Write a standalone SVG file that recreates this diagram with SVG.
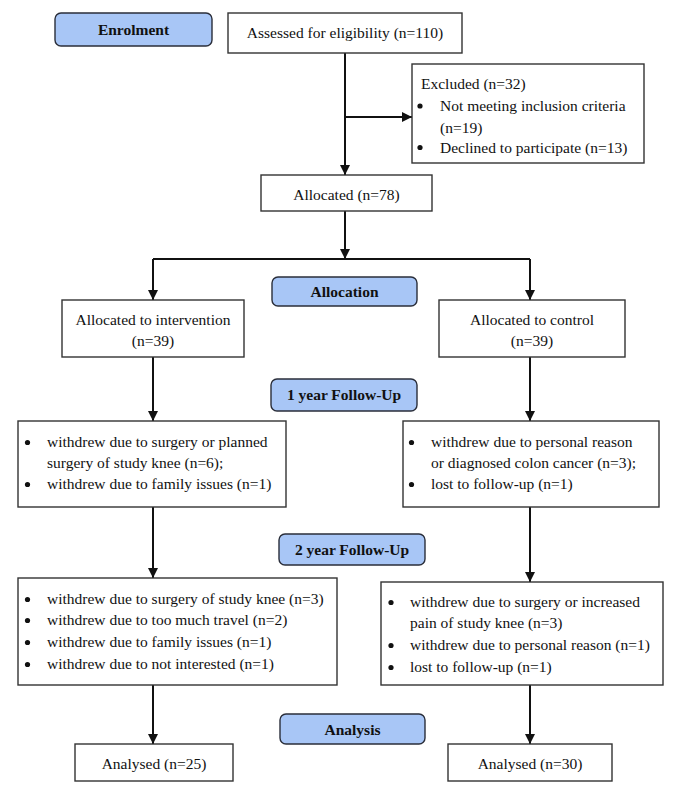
<svg xmlns="http://www.w3.org/2000/svg" width="685" height="806" viewBox="0 0 685 806" font-family="'Liberation Serif', 'Times New Roman', 'DejaVu Serif', serif">
<style>
text{font-family:'Liberation Serif','Times New Roman','DejaVu Serif',serif;font-size:15.5px;fill:#111}
.c{text-anchor:middle}
.b{font-weight:bold}
.box{fill:#fff;stroke:#333;stroke-width:1.4}
.lab{fill:#a8c6f6;stroke:#2a2e3a;stroke-width:1.4}
.ln{stroke:#111;stroke-width:2;fill:none}
.dot{fill:#111}
</style>
<defs>
<marker id="ah" viewBox="0 0 10 10" refX="10" refY="5" markerWidth="10" markerHeight="10" markerUnits="userSpaceOnUse" orient="auto">
<path d="M0,0 L10,5 L0,10 z" fill="#111"/>
</marker>
</defs>
<rect width="685" height="806" fill="#fff"/>
<g id="connectors">
<path class="ln" d="M345,53 V175" marker-end="url(#ah)"/>
<path class="ln" d="M345,117 H412" marker-end="url(#ah)"/>
<path class="ln" d="M345,211 V259" marker-end="url(#ah)"/>
<path class="ln" d="M153,259 H530"/>
<path class="ln" d="M153,259 V300" marker-end="url(#ah)"/>
<path class="ln" d="M530,259 V300" marker-end="url(#ah)"/>
<path class="ln" d="M153,357 V421" marker-end="url(#ah)"/>
<path class="ln" d="M530,357 V421" marker-end="url(#ah)"/>
<path class="ln" d="M153,507 V578" marker-end="url(#ah)"/>
<path class="ln" d="M530,507 V582" marker-end="url(#ah)"/>
<path class="ln" d="M153,685 V744" marker-end="url(#ah)"/>
<path class="ln" d="M530,685 V744" marker-end="url(#ah)"/>
</g>
<g id="enrolment">
<rect class="lab" x="55" y="13" width="157" height="33" rx="6"/>
<text class="c b" x="133.5" y="34.5">Enrolment</text>
</g>
<g id="assessed">
<rect class="box" x="228" y="13" width="234" height="40"/>
<text class="c" x="345" y="38">Assessed for eligibility (n=110)</text>
</g>
<g id="excluded">
<rect class="box" x="412" y="64" width="232" height="99"/>
<text x="421" y="89">Excluded (n=32)</text>
<circle class="dot" cx="420" cy="106" r="2.6"/>
<text x="440" y="111">Not meeting inclusion criteria</text>
<text x="440" y="132.5">(n=19)</text>
<circle class="dot" cx="420" cy="147.5" r="2.6"/>
<text x="440" y="152.5">Declined to participate (n=13)</text>
</g>
<g id="allocated">
<rect class="box" x="261" y="175" width="171" height="36"/>
<text class="c" x="346.5" y="200">Allocated (n=78)</text>
</g>
<g id="allocation-label">
<rect class="lab" x="272" y="277" width="145" height="29" rx="6"/>
<text class="c b" x="344.5" y="297">Allocation</text>
</g>
<g id="intervention">
<rect class="box" x="62" y="300" width="182" height="57"/>
<text class="c" x="153" y="325">Allocated to intervention</text>
<text class="c" x="153" y="346">(n=39)</text>
</g>
<g id="control">
<rect class="box" x="439" y="300" width="186" height="57"/>
<text class="c" x="532" y="325">Allocated to control</text>
<text class="c" x="532" y="346">(n=39)</text>
</g>
<g id="followup1-label">
<rect class="lab" x="271" y="379" width="146" height="32" rx="6"/>
<text class="c b" x="344" y="400">1 year Follow-Up</text>
</g>
<g id="left-1yr">
<rect class="box" x="18" y="421" width="268" height="86"/>
<circle class="dot" cx="27.5" cy="442.5" r="2.6"/>
<text x="47" y="447">withdrew due to surgery or planned</text>
<text x="47" y="468">surgery of study knee (n=6);</text>
<circle class="dot" cx="27.5" cy="484.5" r="2.6"/>
<text x="47" y="489">withdrew due to family issues (n=1)</text>
</g>
<g id="right-1yr">
<rect class="box" x="403" y="421" width="256" height="86"/>
<circle class="dot" cx="411.5" cy="442.5" r="2.6"/>
<text x="431" y="447">withdrew due to personal reason</text>
<text x="431" y="468">or diagnosed colon cancer (n=3);</text>
<circle class="dot" cx="411.5" cy="484.5" r="2.6"/>
<text x="431" y="489">lost to follow-up (n=1)</text>
</g>
<g id="followup2-label">
<rect class="lab" x="279" y="534" width="146" height="31" rx="6"/>
<text class="c b" x="352" y="555">2 year Follow-Up</text>
</g>
<g id="left-2yr">
<rect class="box" x="18" y="578" width="319" height="107"/>
<circle class="dot" cx="27.5" cy="599.5" r="2.6"/>
<text x="47" y="604">withdrew due to surgery of study knee (n=3)</text>
<circle class="dot" cx="27.5" cy="620.5" r="2.6"/>
<text x="47" y="625">withdrew due to too much travel (n=2)</text>
<circle class="dot" cx="27.5" cy="642.5" r="2.6"/>
<text x="47" y="647">withdrew due to family issues (n=1)</text>
<circle class="dot" cx="27.5" cy="664.5" r="2.6"/>
<text x="47" y="669">withdrew due to not interested (n=1)</text>
</g>
<g id="right-2yr">
<rect class="box" x="381" y="582" width="282" height="103"/>
<circle class="dot" cx="391" cy="602.5" r="2.6"/>
<text x="410" y="607">withdrew due to surgery or increased</text>
<text x="410" y="628">pain of study knee (n=3)</text>
<circle class="dot" cx="391" cy="645.5" r="2.6"/>
<text x="410" y="650">withdrew due to personal reason (n=1)</text>
<circle class="dot" cx="391" cy="667.5" r="2.6"/>
<text x="410" y="672">lost to follow-up (n=1)</text>
</g>
<g id="analysis-label">
<rect class="lab" x="280" y="714" width="145" height="30" rx="6"/>
<text class="c b" x="352.5" y="735">Analysis</text>
</g>
<g id="analysed-left">
<rect class="box" x="75" y="744" width="158" height="37"/>
<text class="c" x="154" y="769">Analysed (n=25)</text>
</g>
<g id="analysed-right">
<rect class="box" x="448" y="744" width="164" height="37"/>
<text class="c" x="530" y="769">Analysed (n=30)</text>
</g>
</svg>
